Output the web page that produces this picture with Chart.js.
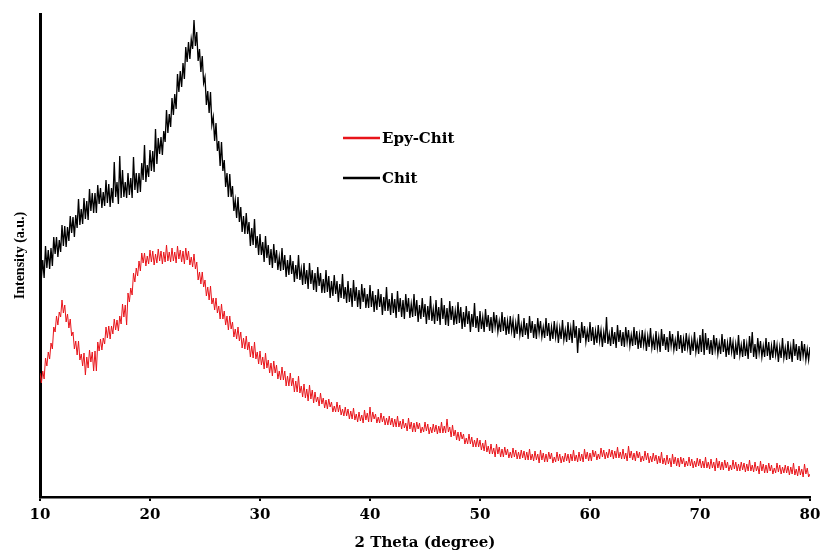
<!DOCTYPE html>
<html>
<head>
<meta charset="utf-8">
<script src="https://cdn.jsdelivr.net/npm/chart.js@4/dist/chart.umd.min.js"></script>
<style>
  html, body { margin: 0; padding: 0; background: #fff; }
  #wrap { width: 821px; height: 553px; }
</style>
</head>
<body>
<div id="wrap"><canvas id="xrdChart" width="821" height="553"></canvas></div>
<script>
// 2-theta sampling grid: start and step of the scan (degrees)
const THETA_START = 10;
const THETA_STEP = 0.125;
const X_TICKS = [10, 20, 30, 40, 50, 60, 70, 80];

// intensities (a.u.), 8 values per degree, one row per degree
const chitIntensity = [
    239, 219, 237, 219, 251, 229, 247, 228,
    249, 231, 260, 243, 260, 240, 257, 245,
    272, 251, 271, 250, 270, 256, 281, 264,
    280, 260, 282, 269, 298, 272, 288, 273,
    299, 278, 296, 277, 308, 286, 304, 284,
    304, 284, 312, 293, 309, 289, 305, 291,
    317, 294, 313, 290, 309, 294, 335, 300,
    315, 293, 341, 299, 327, 300, 315, 299,
    324, 302, 319, 299, 340, 307, 324, 304,
    324, 305, 334, 317, 352, 315, 332, 320,
    347, 326, 346, 325, 368, 333, 359, 343,
    360, 342, 366, 355, 387, 364, 383, 370,
    399, 382, 403, 388, 423, 405, 426, 410,
    434, 418, 450, 435, 455, 438, 458, 448,
    477, 451, 465, 436, 448, 425, 441, 414,
    420, 392, 406, 384, 405, 372, 380, 356,
    374, 346, 356, 331, 355, 326, 337, 310,
    324, 300, 323, 300, 311, 286, 297, 279,
    300, 275, 290, 265, 281, 263, 284, 263,
    275, 251, 269, 252, 278, 249, 261, 242,
    263, 242, 255, 235, 261, 239, 252, 232,
    248, 229, 253, 234, 247, 227, 240, 226,
    249, 227, 242, 220, 237, 222, 242, 223,
    236, 215, 232, 218, 242, 217, 228, 212,
    234, 213, 227, 208, 234, 213, 227, 207,
    224, 205, 230, 211, 224, 204, 218, 204,
    227, 205, 221, 199, 216, 201, 222, 203,
    216, 195, 213, 199, 223, 198, 210, 194,
    216, 195, 209, 190, 217, 196, 210, 190,
    207, 188, 213, 195, 209, 189, 203, 189,
    212, 190, 206, 185, 202, 187, 208, 190,
    203, 182, 200, 186, 210, 186, 198, 182,
    204, 184, 198, 179, 206, 185, 199, 180,
    197, 178, 203, 185, 199, 179, 193, 180,
    203, 181, 197, 175, 192, 178, 199, 180,
    193, 173, 191, 177, 201, 176, 188, 173,
    197, 176, 190, 172, 199, 178, 192, 172,
    189, 171, 196, 177, 191, 172, 186, 173,
    195, 174, 190, 168, 185, 170, 191, 173,
    186, 165, 183, 170, 194, 169, 181, 165,
    186, 168, 180, 165, 188, 170, 182, 166,
    180, 164, 185, 170, 182, 165, 176, 165,
    185, 166, 180, 162, 176, 163, 181, 166,
    177, 159, 174, 163, 183, 162, 172, 160,
    179, 162, 174, 158, 181, 164, 176, 159,
    173, 158, 179, 164, 176, 160, 170, 159,
    179, 161, 174, 156, 170, 158, 176, 160,
    171, 154, 169, 158, 177, 157, 167, 155,
    175, 157, 169, 154, 177, 159, 171, 144,
    169, 154, 175, 159, 171, 155, 166, 155,
    175, 156, 170, 152, 166, 154, 172, 156,
    167, 150, 165, 154, 180, 153, 163, 151,
    170, 153, 165, 149, 172, 155, 167, 151,
    165, 150, 170, 155, 167, 151, 162, 151,
    170, 152, 166, 148, 162, 149, 167, 152,
    163, 146, 161, 150, 169, 149, 159, 147,
    166, 149, 160, 145, 168, 151, 163, 147,
    160, 145, 166, 151, 163, 147, 157, 146,
    166, 148, 162, 144, 158, 146, 164, 149,
    159, 142, 157, 146, 165, 145, 155, 143,
    162, 145, 168, 142, 164, 147, 159, 143,
    157, 142, 162, 147, 159, 143, 154, 143,
    163, 145, 158, 140, 154, 142, 160, 145,
    155, 138, 153, 142, 162, 142, 152, 140,
    158, 141, 153, 138, 161, 144, 165, 140,
    153, 138, 159, 144, 156, 140, 151, 140,
    159, 141, 155, 137, 151, 139, 157, 142,
    152, 135, 150, 139, 159, 139, 149, 137,
    156, 138, 150, 135, 158, 141, 153, 137,
    151, 136, 156, 141, 153, 137, 148, 137,
    150
];

const epyChitIntensity = [
    124, 114, 126, 118, 139, 131, 145, 138,
    154, 148, 170, 165, 181, 172, 185, 180,
    197, 184, 192, 175, 183, 169, 178, 161,
    165, 148, 156, 142, 156, 137, 143, 131,
    144, 122, 140, 129, 147, 135, 145, 126,
    146, 126, 155, 146, 158, 147, 159, 153,
    170, 159, 171, 158, 171, 163, 178, 167,
    177, 166, 181, 173, 193, 180, 192, 172,
    204, 195, 209, 202, 224, 215, 229, 221,
    236, 226, 244, 234, 244, 231, 241, 233,
    247, 235, 246, 232, 243, 234, 248, 236,
    246, 233, 245, 235, 252, 236, 245, 235,
    249, 236, 245, 234, 251, 238, 247, 235,
    246, 233, 249, 237, 246, 232, 240, 230,
    243, 228, 235, 217, 225, 213, 225, 210,
    217, 201, 210, 197, 211, 193, 199, 187,
    199, 184, 191, 178, 193, 178, 186, 172,
    181, 167, 181, 168, 175, 160, 168, 158,
    170, 156, 165, 149, 159, 148, 161, 147,
    155, 140, 151, 139, 155, 138, 145, 133,
    146, 132, 140, 128, 144, 129, 137, 124,
    134, 121, 136, 124, 132, 118, 126, 117,
    130, 117, 126, 111, 121, 111, 124, 111,
    119, 105, 116, 105, 121, 104, 111, 100,
    113, 99, 108, 96, 112, 98, 107, 94,
    105, 95, 100, 91, 104, 93, 99, 89,
    97, 88, 98, 90, 95, 85, 91, 85,
    95, 85, 92, 82, 88, 81, 90, 81,
    88, 78, 86, 78, 89, 77, 83, 75,
    85, 76, 82, 74, 87, 77, 84, 75,
    90, 75, 85, 78, 83, 74, 80, 74,
    84, 75, 81, 72, 79, 72, 81, 72,
    79, 70, 78, 70, 81, 70, 76, 68,
    78, 69, 74, 66, 79, 68, 75, 65,
    74, 65, 75, 68, 74, 64, 70, 65,
    75, 66, 73, 63, 70, 64, 73, 65,
    72, 63, 71, 64, 75, 64, 71, 64,
    78, 65, 70, 60, 72, 61, 67, 57,
    65, 56, 65, 58, 63, 53, 59, 53,
    63, 53, 60, 50, 57, 50, 59, 50,
    57, 47, 54, 46, 57, 45, 51, 43,
    53, 43, 49, 40, 53, 43, 50, 40,
    48, 40, 50, 42, 48, 39, 45, 39,
    49, 40, 47, 38, 45, 38, 47, 39,
    46, 37, 45, 37, 48, 37, 43, 36,
    46, 37, 43, 34, 47, 37, 44, 35,
    43, 35, 45, 38, 44, 34, 40, 35,
    45, 36, 43, 34, 41, 35, 44, 36,
    43, 34, 43, 36, 47, 36, 42, 35,
    45, 36, 43, 35, 48, 38, 45, 36,
    44, 36, 47, 40, 46, 37, 43, 38,
    49, 40, 47, 38, 45, 39, 48, 40,
    47, 38, 46, 39, 50, 39, 45, 38,
    48, 38, 44, 36, 51, 39, 46, 37,
    44, 36, 46, 39, 45, 35, 41, 36,
    46, 37, 44, 34, 41, 35, 44, 36,
    42, 33, 41, 34, 45, 33, 39, 32,
    42, 33, 39, 30, 43, 33, 40, 31,
    39, 30, 40, 33, 39, 30, 36, 31,
    40, 31, 38, 29, 36, 30, 39, 31,
    38, 29, 36, 29, 40, 29, 35, 28,
    38, 29, 35, 26, 39, 29, 36, 27,
    35, 27, 37, 29, 35, 26, 32, 27,
    37, 28, 35, 26, 33, 26, 35, 27,
    34, 25, 33, 26, 37, 26, 32, 25,
    35, 26, 31, 23, 36, 26, 33, 24,
    32, 24, 34, 26, 32, 23, 29, 24,
    34, 25, 32, 23, 30, 24, 32, 24,
    31, 22, 30, 23, 34, 22, 28, 21,
    31, 22, 28, 20, 33, 23, 29, 20,
    23
];

const SERIES_LABELS = ["Epy-Chit", "Chit"];
const SERIES_COLORS = ["#e8141a", "#000000"];

function toPoints(values) {
    return values.map((v, i) => ({ x: THETA_START + i * THETA_STEP, y: v }));
}

// legend drawn as a vertical list inside the plot, like the original figure
const insideLegend = {
    id: "insideLegend",
    afterDraw(chart) {
        const ctx = chart.ctx;
        const left = chart.chartArea.left + 303;
        const rows = [138, 178];
        ctx.save();
        ctx.font = "bold 15px 'DejaVu Serif'";
        ctx.textBaseline = "middle";
        chart.data.datasets.forEach((ds, i) => {
            const y = rows[i];
            ctx.strokeStyle = ds.borderColor;
            ctx.lineWidth = 2.5;
            ctx.beginPath();
            ctx.moveTo(left, y);
            ctx.lineTo(left + 37, y);
            ctx.stroke();
            ctx.fillStyle = "#000";
            ctx.fillText(ds.label, left + 39, y + 1);
        });
        ctx.restore();
    },
};

new Chart(document.getElementById("xrdChart"), {
    type: "line",
    data: {
        datasets: [
            {
                label: SERIES_LABELS[0],
                data: toPoints(epyChitIntensity),
                borderColor: SERIES_COLORS[0],
                borderWidth: 1,
                pointRadius: 0,
                tension: 0,
            },
            {
                label: SERIES_LABELS[1],
                data: toPoints(chitIntensity),
                borderColor: SERIES_COLORS[1],
                borderWidth: 1.3,
                pointRadius: 0,
                tension: 0,
            },
        ],
    },
    options: {
        responsive: false,
        animation: false,
        layout: { padding: { top: 14, right: 11, left: 0, bottom: 0 } },
        plugins: { legend: { display: false }, tooltip: { enabled: false } },
        scales: {
            x: {
                type: "linear",
                min: 10,
                max: 80,
                afterBuildTicks: (scale) => {
                    scale.ticks = X_TICKS.map((v) => ({ value: v }));
                },
                afterFit: (scale) => {
                    scale.height = 56;
                    scale.paddingLeft = 0;
                    scale.paddingRight = 0;
                },
                ticks: {
                    color: "#000",
                    padding: 5,
                    maxRotation: 0,
                    font: { family: "'DejaVu Serif'", weight: "bold", size: 15 },
                },
                grid: {
                    display: true,
                    drawOnChartArea: false,
                    drawTicks: true,
                    tickLength: 4,
                    color: "#000",
                    lineWidth: 2,
                },
                border: { display: true, color: "#000", width: 2.5 },
                title: {
                    display: true,
                    text: "2 Theta (degree)",
                    color: "#000",
                    padding: { top: 0, bottom: 1 },
                    font: { family: "'DejaVu Serif'", weight: "bold", size: 15 },
                },
            },
            y: {
                min: 0,
                max: 483,
                afterFit: (scale) => { scale.width = 40; },
                ticks: { display: false },
                grid: { display: false },
                border: { display: true, color: "#000", width: 3 },
                title: {
                    display: true,
                    text: "Intensity (a.u.)",
                    color: "#000",
                    padding: { top: 12, bottom: 0 },
                    font: { family: "'Liberation Serif'", weight: "bold", size: 14 },
                },
            },
        },
    },
    plugins: [insideLegend],
});
</script>
</body>
</html>
